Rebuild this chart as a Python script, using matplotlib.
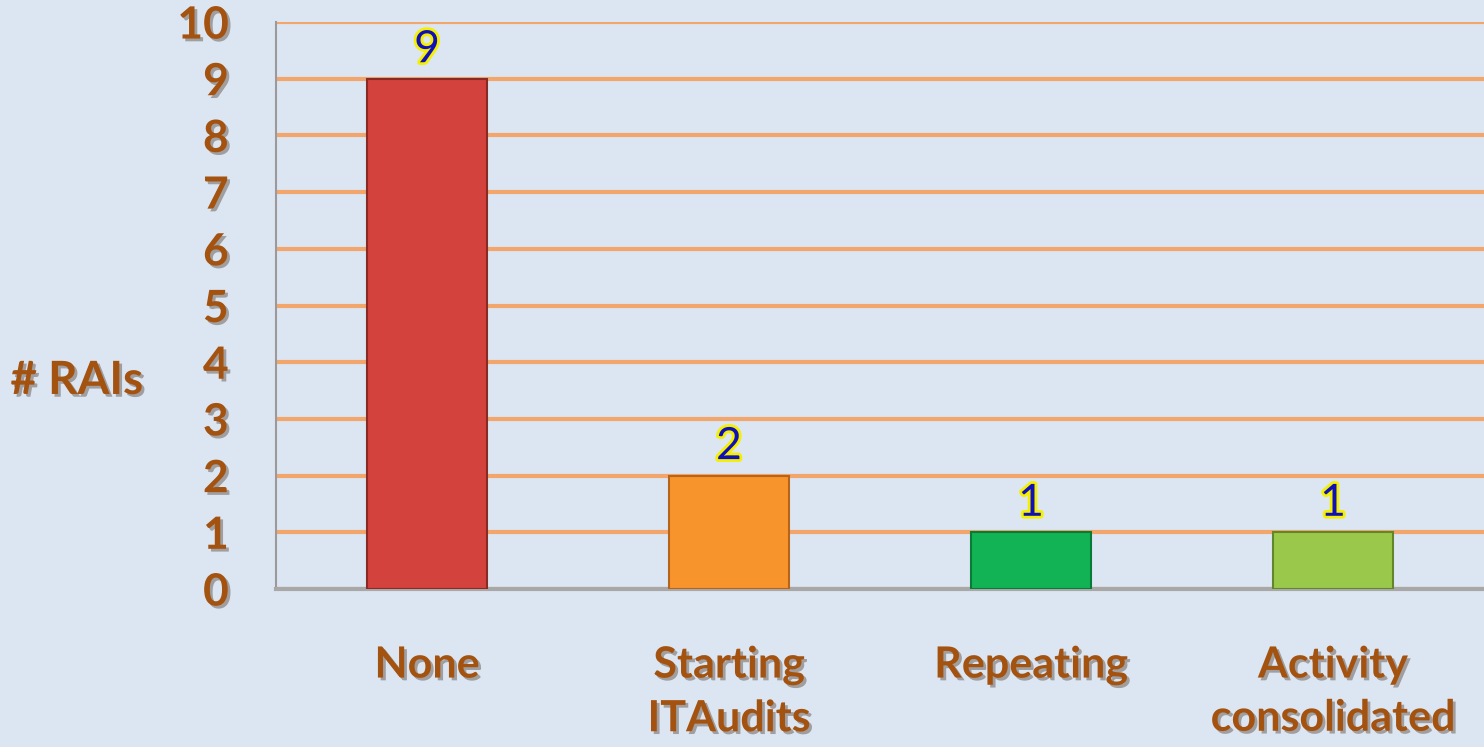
import matplotlib
matplotlib.use("Agg")
import matplotlib.pyplot as plt
import matplotlib.patheffects as pe

categories = ["None", "Starting\nITAudits", "Repeating", "Activity\nconsolidated"]
values = [9, 2, 1, 1]
colors = ["#d4423d", "#f8942c", "#12b355", "#9ac84a"]
edges = ["#8a2a25", "#b5641a", "#0a7a38", "#62862c"]
yticks = list(range(0, 11))

bg = "#dce6f2"
txt = "#a4520f"

fig = plt.figure(figsize=(14.84, 7.47), dpi=100, facecolor=bg)
ax = fig.add_axes([0.186, 0.2115, 0.814, 0.759])
ax.set_facecolor(bg)

x = range(len(categories))
ax.bar(x, values, width=0.4, color=colors, edgecolor=edges, linewidth=1.5, zorder=3)

ax.set_xlim(-0.5, 3.5)
ax.set_ylim(0, 10)
ax.set_yticks(yticks)
ax.yaxis.grid(True, color="#f2a66c", linewidth=3, zorder=1)
ax.set_axisbelow(True)
for s in ["top", "right"]:
    ax.spines[s].set_visible(False)
ax.spines["left"].set_color("#9a9a9a")
ax.spines["left"].set_linewidth(1.5)
ax.spines["bottom"].set_color("#a8a8a8")
ax.spines["bottom"].set_linewidth(3)

ax.tick_params(axis="both", length=0)
ax.set_xticks(list(x))
ax.set_xticklabels(categories, fontsize=31, fontweight="bold", color=txt, family="Lato",
                   linespacing=1.4, va="top")
ax.tick_params(axis="x", pad=40)
ax.tick_params(axis="y", pad=34)
for lab in ax.get_yticklabels():
    lab.set_fontsize(32)
    lab.set_fontweight("bold")
    lab.set_color(txt)
    lab.set_family("Lato")
    lab.set_ha("right")
for lab in ax.get_xticklabels() + ax.get_yticklabels():
    lab.set_path_effects([pe.withSimplePatchShadow(offset=(2, -2), alpha=0.35)])

fig.text(0.007, 0.49, "# RAIs", fontsize=33, fontweight="bold", color=txt, family="Lato",
         ha="left", va="center",
         path_effects=[pe.withSimplePatchShadow(offset=(2, -2), alpha=0.35)])

for xi, v in zip(x, values):
    ax.text(xi, v + 0.15, str(v), ha="center", va="bottom", fontsize=32, color="#1010b8",
            family="Lato", zorder=5,
            path_effects=[pe.Stroke(linewidth=4, foreground="#f5f000"), pe.Normal()])

fig.savefig("out.png", dpi=100, facecolor=bg)
